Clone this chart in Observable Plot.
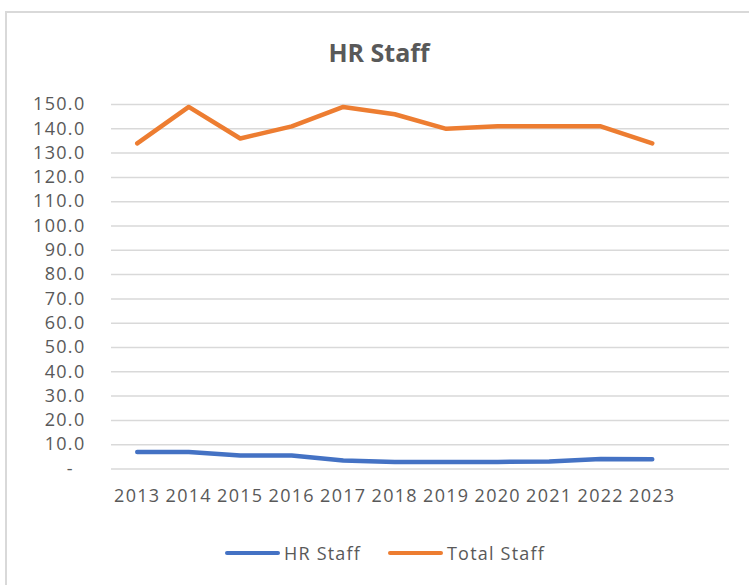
<!DOCTYPE html>
<html><head><meta charset="utf-8">
<script src="https://cdn.jsdelivr.net/npm/d3@7"></script>
<script src="https://cdn.jsdelivr.net/npm/@observablehq/plot@0.6"></script>
<style>
html,body{margin:0;padding:0;width:749px;height:585px;overflow:hidden;background:#fff;font-family:"Open Sans",sans-serif;}
#frame{position:absolute;left:5px;top:11px;width:800px;height:700px;border:2px solid #d9d9d9;box-sizing:border-box;}
#title{position:absolute;left:0;width:758px;top:40px;line-height:25px;text-align:center;font-weight:700;font-size:25px;color:#595959;}
#chart{position:absolute;left:0;top:80px;}
#chart svg text{letter-spacing:1.3px;}
.sw{position:absolute;height:4.5px;border-radius:2.25px;}
.lt{position:absolute;font-size:18px;line-height:18px;color:#595959;letter-spacing:1.2px;white-space:nowrap;}
</style>
</head><body>
<div id="frame"></div>
<div id="title">HR Staff</div>
<div id="chart"></div>
<div id="legend"></div>
<script>
const years = [2013, 2014, 2015, 2016, 2017, 2018, 2019, 2020, 2021, 2022, 2023];
const hrStaff = [7.0, 7.0, 5.6, 5.6, 3.5, 2.9, 2.9, 2.9, 3.1, 4.1, 4.0];
const totalStaff = [134, 149, 136, 141, 149, 146, 140, 141, 141, 141, 134];
const seriesNames = ["HR Staff", "Total Staff"];
const seriesColors = ["#4472C4", "#ED7D31"];
const yTicks = d3.range(0, 151, 10);

const data = years.flatMap((yr, i) => [
  {year: yr, series: seriesNames[0], value: hrStaff[i]},
  {year: yr, series: seriesNames[1], value: totalStaff[i]}
]);

const chart = Plot.plot({
  width: 749, height: 430,
  marginLeft: 111, marginRight: 20, marginTop: 24, marginBottom: 41.5,
  style: {fontFamily: "Open Sans", fontSize: "18px", color: "#595959", background: "transparent", overflow: "visible"},
  x: {domain: [2012.5, 2024.5]},
  y: {domain: [0, 150]},
  color: {domain: seriesNames, range: seriesColors},
  marks: [
    Plot.gridY(yTicks, {stroke: "#d9d9d9", strokeOpacity: 1, strokeWidth: 1.5}),
    Plot.axisX(years, {tickSize: 0, tickPadding: 20, tickFormat: d => String(d), label: null}),
    Plot.axisY(yTicks, {tickSize: 0, tickPadding: 26, label: null,
      tickFormat: d => d === 0 ? "-\u2007" : d.toFixed(1)}),
    Plot.line(data, {x: "year", y: "value", z: "series", stroke: "series",
      strokeWidth: 4.5, strokeLinecap: "round", strokeLinejoin: "round"})
  ]
});
document.getElementById("chart").appendChild(chart);

// legend
const legend = document.getElementById("legend");
const legendPos = [{sw: 225, tx: 284}, {sw: 388, tx: 447}];
seriesNames.forEach((name, i) => {
  const s = document.createElement("div");
  s.className = "sw";
  s.style.left = legendPos[i].sw + "px";
  s.style.top = "550.75px";
  s.style.width = "55px";
  s.style.background = seriesColors[i];
  legend.appendChild(s);
  const t = document.createElement("div");
  t.className = "lt";
  t.style.left = legendPos[i].tx + "px";
  t.style.top = "543.5px";
  t.textContent = name;
  legend.appendChild(t);
});
</script>
</body></html>
